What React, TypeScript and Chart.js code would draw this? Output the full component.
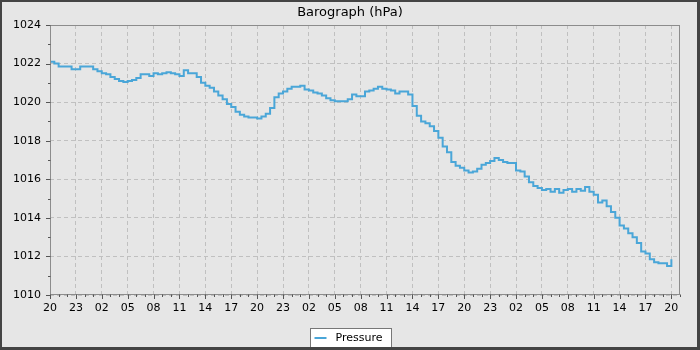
import React, { useEffect, useRef } from "react";
import { Chart, registerables } from "chart.js";

Chart.register(...registerables);

// ---- data ----
const TITLE = "Barograph (hPa)";
const SERIES_LABEL = "Pressure";
const START_HOUR = 20; // clock hour at x = 0
const STEP_HOURS = 0.5; // spacing of the samples below
const X_MAX_HOURS = 73;
const X_TICK_STEP = 3;
const Y_MIN = 1010;
const Y_MAX = 1024;
const Y_TICK_STEP = 2;

const pressure: number[] = [
  1022.1, 1022.0, 1021.85, 1021.85, 1021.85, 1021.7, 1021.7, 1021.85, 1021.85, 1021.85,
  1021.7, 1021.6, 1021.5, 1021.45, 1021.3, 1021.2, 1021.1, 1021.05, 1021.1, 1021.15,
  1021.25, 1021.45, 1021.45, 1021.35, 1021.5, 1021.45, 1021.5, 1021.55, 1021.5, 1021.45,
  1021.35, 1021.65, 1021.5, 1021.5, 1021.3, 1021.0, 1020.85, 1020.75, 1020.55, 1020.35,
  1020.15, 1019.9, 1019.75, 1019.5, 1019.35, 1019.25, 1019.2, 1019.2, 1019.15, 1019.25,
  1019.4, 1019.7, 1020.25, 1020.45, 1020.55, 1020.7, 1020.8, 1020.8, 1020.85, 1020.65,
  1020.6, 1020.5, 1020.45, 1020.35, 1020.2, 1020.1, 1020.05, 1020.05, 1020.05, 1020.15,
  1020.4, 1020.3, 1020.3, 1020.55, 1020.6, 1020.7, 1020.8, 1020.7, 1020.65, 1020.6,
  1020.45, 1020.55, 1020.55, 1020.4, 1019.8, 1019.3, 1019.0, 1018.9, 1018.75, 1018.5,
  1018.15, 1017.7, 1017.4, 1016.9, 1016.7, 1016.6, 1016.45, 1016.35, 1016.4, 1016.55,
  1016.75, 1016.85, 1016.95, 1017.1, 1017.0, 1016.9, 1016.85, 1016.85, 1016.45, 1016.4,
  1016.15, 1015.85, 1015.65, 1015.55, 1015.45, 1015.5, 1015.35, 1015.5, 1015.3, 1015.45,
  1015.5, 1015.35, 1015.5, 1015.4, 1015.6, 1015.35, 1015.2, 1014.8, 1014.9, 1014.6,
  1014.3, 1014.0, 1013.6, 1013.45, 1013.2, 1013.0, 1012.7, 1012.25, 1012.15, 1011.85,
  1011.7, 1011.65, 1011.65, 1011.5, 1011.85,
];

// ---- styles ----
const FONT = "'DejaVu Sans', sans-serif";
const LINE_COLOR = "#4aa6d8";
const GRID_COLOR = "#c0c0c0";
const FRAME_COLOR = "#8c8c8c";
const BG_COLOR = "#e6e6e6";

const fmtHour = (v: number) => {
  const h = (((START_HOUR + Math.round(v)) % 24) + 24) % 24;
  return h < 10 ? "0" + h : String(h);
};

const backgroundPlugin = {
  id: "bg",
  beforeDraw(chart: any) {
    const { ctx, width, height } = chart;
    ctx.save();
    ctx.fillStyle = BG_COLOR;
    ctx.fillRect(0, 0, width, height);
    ctx.restore();
  },
};

const decorPlugin = {
  id: "decor",
  afterDraw(chart: any) {
    const { ctx, chartArea: a, scales, width, height } = chart;
    const x = scales.x;
    const y = scales.y;
    ctx.save();
    // plot frame
    ctx.strokeStyle = FRAME_COLOR;
    ctx.lineWidth = 1;
    const l = Math.round(a.left) + 0.5;
    const t = Math.round(a.top) + 0.5;
    const r = Math.round(a.right) - 0.5;
    const b = Math.round(a.bottom) - 0.5;
    ctx.strokeRect(l, t, r - l, b - t);
    // tick marks (major + minor)
    ctx.strokeStyle = "#555";
    ctx.beginPath();
    for (let h = 0; h <= X_MAX_HOURS; h++) {
      const px = Math.round(x.getPixelForValue(h)) + 0.5;
      const len = h % X_TICK_STEP === 0 ? 4 : 2;
      ctx.moveTo(px, b);
      ctx.lineTo(px, b + len + 0.5);
    }
    for (let v = Y_MIN; v <= Y_MAX; v++) {
      const py = Math.round(y.getPixelForValue(v)) + 0.5;
      const len = (v - Y_MIN) % Y_TICK_STEP === 0 ? 4 : 2;
      ctx.moveTo(l, py);
      ctx.lineTo(l - len - 0.5, py);
    }
    ctx.stroke();

    // legend
    const ds = chart.data.datasets[0];
    ctx.font = "11px " + FONT;
    const tw = ctx.measureText(ds.label).width;
    const boxW = 4 + 12 + 9 + tw + 9;
    const bx = Math.round(width / 2 - boxW / 2) + 0.5;
    const by = 328.5;
    const bh = 19;
    ctx.fillStyle = "#ffffff";
    ctx.fillRect(bx, by, boxW, bh);
    ctx.strokeStyle = "#777";
    ctx.strokeRect(bx, by, Math.round(boxW), bh);
    ctx.strokeStyle = ds.borderColor;
    ctx.lineWidth = 2;
    ctx.beginPath();
    ctx.moveTo(bx + 4, by + 9.5);
    ctx.lineTo(bx + 16, by + 9.5);
    ctx.stroke();
    ctx.fillStyle = "#000";
    ctx.textBaseline = "middle";
    ctx.textAlign = "left";
    ctx.fillText(ds.label, bx + 25, by + 9.5);

    // outer border
    ctx.fillStyle = "#444";
    ctx.fillRect(0, 0, width, 2);
    ctx.fillRect(0, 0, 2, height);
    ctx.fillRect(width - 3, 0, 3, height);
    ctx.fillRect(0, height - 3, width, 3);
    ctx.restore();
  },
};

export default function App() {
  const ref = useRef<HTMLCanvasElement>(null);
  useEffect(() => {
    document.body.style.margin = "0";
    const canvas = ref.current;
    if (!canvas) return;
    const chart = new Chart(canvas, {
      type: "line",
      data: {
        datasets: [
          {
            label: SERIES_LABEL,
            data: pressure.map((p, i) => ({ x: i * STEP_HOURS, y: p })),
            borderColor: LINE_COLOR,
            backgroundColor: LINE_COLOR,
            borderWidth: 2,
            pointRadius: 0,
            stepped: true,
            fill: false,
          },
        ],
      },
      options: {
        responsive: false,
        animation: false,
        devicePixelRatio: 1,
        layout: { padding: 0 },
        plugins: {
          legend: { display: false },
          tooltip: { enabled: false },
          title: {
            display: true,
            text: TITLE,
            color: "#000",
            font: { family: FONT, size: 13, weight: "normal", lineHeight: 1.2 },
            padding: { top: 4.5, bottom: 4.9 },
          },
        },
        scales: {
          x: {
            type: "linear",
            min: 0,
            max: X_MAX_HOURS,
            afterFit: (s: any) => {
              s.height = 55;
            },
            ticks: {
              stepSize: X_TICK_STEP,
              includeBounds: false,
              autoSkip: false,
              maxRotation: 0,
              minRotation: 0,
              padding: 7,
              color: "#000",
              font: { family: FONT, size: 11 },
              callback: (v: any) => fmtHour(Number(v)),
            },
            grid: { color: GRID_COLOR, lineWidth: 1, drawTicks: false },
            border: { display: false, dash: [4, 3] },
          },
          y: {
            type: "linear",
            min: Y_MIN,
            max: Y_MAX,
            afterFit: (s: any) => {
              s.width = 50;
            },
            ticks: {
              stepSize: Y_TICK_STEP,
              padding: 9,
              color: "#000",
              font: { family: FONT, size: 11 },
              callback: (v: any) => String(v),
            },
            grid: { color: GRID_COLOR, lineWidth: 1, drawTicks: false },
            border: { display: false, dash: [4, 3] },
          },
          yRightSpace: {
            type: "linear",
            position: "right",
            min: Y_MIN,
            max: Y_MAX,
            afterFit: (s: any) => {
              s.width = 20;
            },
            ticks: { display: false },
            grid: { display: false, drawTicks: false },
            border: { display: false },
          },
        },
      },
      plugins: [backgroundPlugin, decorPlugin],
    });
    return () => chart.destroy();
  }, []);
  return (
    <canvas
      ref={ref}
      width={700}
      height={350}
      style={{ display: "block", width: 700, height: 350 }}
    />
  );
}
